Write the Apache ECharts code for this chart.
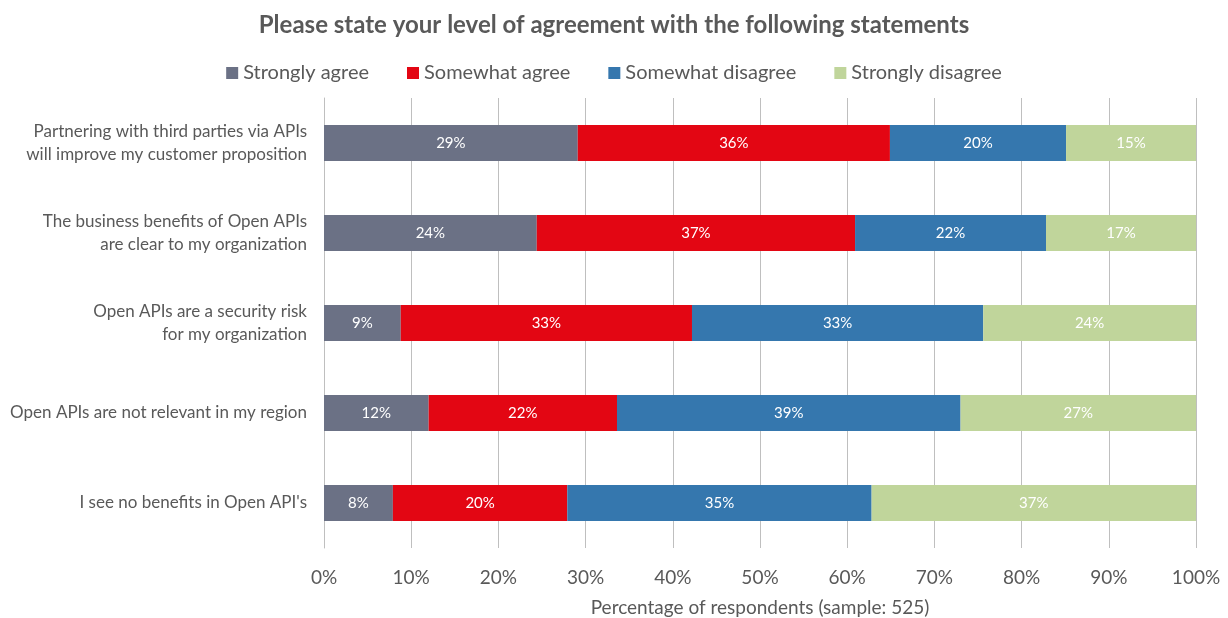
<!DOCTYPE html>
<html>
<head>
<meta charset="utf-8">
<script src="https://cdn.jsdelivr.net/npm/echarts@6/dist/echarts.min.js"></script>
<style>
  html, body { margin: 0; padding: 0; background: #fff; }
  #chart { width: 1228px; height: 618px; }
</style>
</head>
<body>
<div id="chart"></div>
<script>
const statements = [
  'Partnering with third parties via APIs\nwill improve my customer proposition',
  'The business benefits of Open APIs\nare clear to my organization',
  'Open APIs are a security risk\nfor my organization',
  'Open APIs are not relevant in my region',
  "I see no benefits in Open API's"
];
const stronglyAgree = [29.1, 24.4, 8.8, 12.0, 7.9];
const somewhatAgree = [35.8, 36.5, 33.4, 21.6, 20.0];
const somewhatDisagree = [20.2, 21.9, 33.4, 39.4, 34.9];
const stronglyDisagree = [14.9, 17.2, 24.4, 27.0, 37.2];
const seriesNames = ['Strongly agree', 'Somewhat agree', 'Somewhat disagree', 'Strongly disagree'];
const colors = ['#6b7185', '#e30613', '#3577ae', '#c0d59b'];

const font = 'Lato, "Open Sans", sans-serif';
const textColor = '#595959';

const chart = echarts.init(document.getElementById('chart'));

function makeSeries(name, values, color) {
  return {
    name: name,
    type: 'bar',
    stack: 'total',
    barWidth: 36,
    data: values,
    itemStyle: { color: color },
    label: {
      show: true,
      position: 'inside',
      color: '#ffffff',
      fontFamily: font,
      fontSize: 15,
      formatter: p => Math.round(p.value) + '%'
    }
  };
}

chart.setOption({
  color: colors,
  title: {
    text: 'Please state your level of agreement with the following statements',
    left: 'center',
    top: 8,
    textStyle: { color: textColor, fontFamily: font, fontSize: 24, fontWeight: 'bold' }
  },
  legend: {
    top: 58,
    left: 'center',
    itemWidth: 12,
    itemHeight: 12,
    itemGap: 38,
    icon: 'rect',
    data: seriesNames,
    textStyle: { color: textColor, fontFamily: font, fontSize: 20 }
  },
  grid: { left: 324, right: 32, top: 98, bottom: 70, outerBoundsMode: 'none', containLabel: false },
  xAxis: {
    type: 'value',
    min: 0,
    max: 100,
    interval: 10,
    name: 'Percentage of respondents (sample: 525)',
    nameLocation: 'middle',
    nameGap: 50,
    nameTextStyle: { color: textColor, fontFamily: font, fontSize: 19 },
    axisLine: { show: false },
    axisTick: { show: false },
    axisLabel: { color: textColor, fontFamily: font, fontSize: 19, margin: 20, formatter: '{value}%' },
    splitLine: { show: true, lineStyle: { color: '#bfbfbf', width: 1 } }
  },
  yAxis: {
    type: 'category',
    inverse: true,
    data: statements,
    axisLine: { show: true, lineStyle: { color: '#bfbfbf' } },
    axisTick: { show: false },
    axisLabel: {
      color: textColor,
      fontFamily: font,
      fontSize: 17,
      lineHeight: 23,
      align: 'right',
      margin: 17
    }
  },
  series: [
    makeSeries(seriesNames[0], stronglyAgree, colors[0]),
    makeSeries(seriesNames[1], somewhatAgree, colors[1]),
    makeSeries(seriesNames[2], somewhatDisagree, colors[2]),
    makeSeries(seriesNames[3], stronglyDisagree, colors[3])
  ]
});
</script>
</body>
</html>
